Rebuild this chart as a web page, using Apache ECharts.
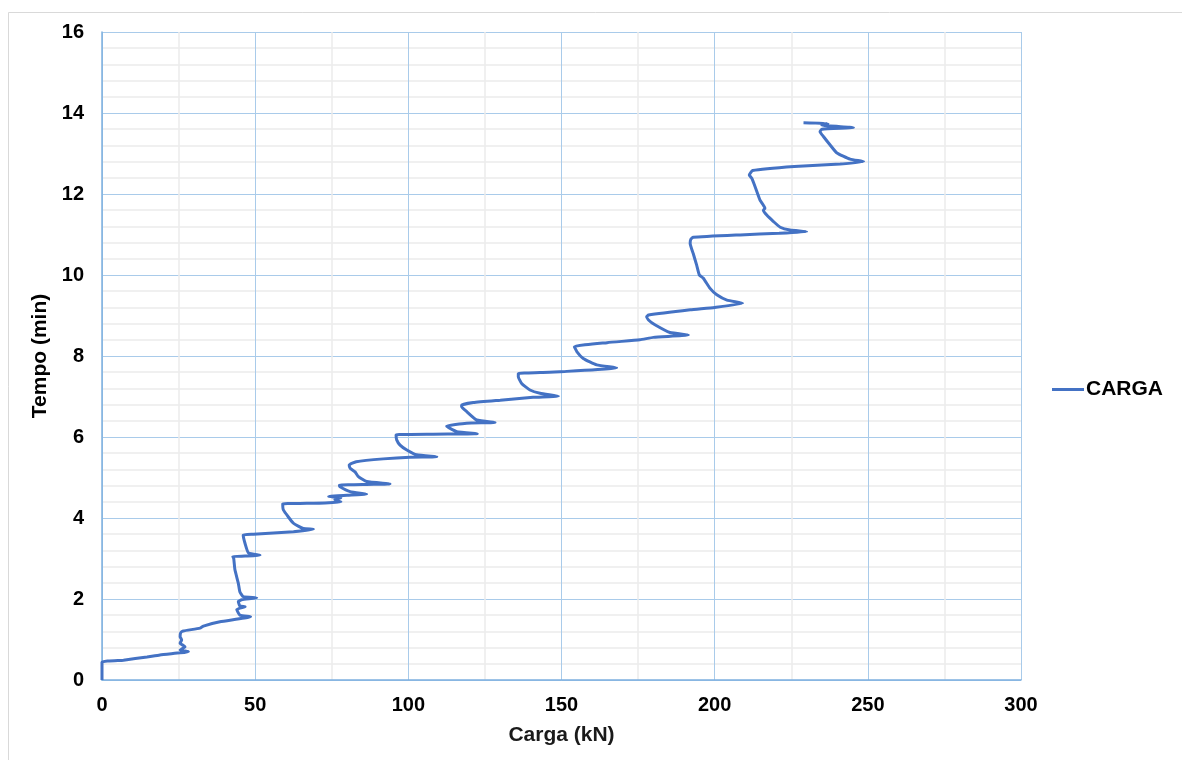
<!DOCTYPE html>
<html>
<head>
<meta charset="utf-8">
<title>Carga x Tempo</title>
<script src="https://cdn.jsdelivr.net/npm/echarts@6/dist/echarts.min.js"></script>
<style>
  html, body { margin: 0; padding: 0; background: #ffffff; }
  #chart { width: 1182px; height: 760px; }
</style>
</head>
<body>
<div id="chart"></div>
<script>
// Load test record: load (kN) against elapsed time (min)
const seriesName = 'CARGA';
const xTicks = [0, 50, 100, 150, 200, 250, 300];
const yTicks = [0, 2, 4, 6, 8, 10, 12, 14, 16];

const tempo = [
  0, 0.44, 0.49, 0.57, 0.62, 0.67, 0.70, 0.74, 0.82, 0.91,
  0.99, 1.07, 1.17, 1.21, 1.28, 1.33, 1.44, 1.56, 1.60, 1.74,
  1.81, 1.83, 1.94, 1.98, 2.03, 2.06, 2.18, 2.39, 2.72, 3.00,
  3.05, 3.06, 3.08, 3.14, 3.37, 3.58, 3.60, 3.66, 3.72, 3.74,
  3.87, 4.20, 4.35, 4.36, 4.37, 4.40, 4.45, 4.50, 4.53, 4.56,
  4.59, 4.65, 4.77, 4.81, 4.83, 4.84, 4.90, 5.02, 5.14, 5.23,
  5.31, 5.39, 5.46, 5.50, 5.51, 5.56, 5.68, 5.80, 5.93, 6.05,
  6.07, 6.08, 6.13, 6.24, 6.27, 6.34, 6.36, 6.42, 6.63, 6.75,
  6.79, 6.85, 6.91, 6.98, 7.01, 7.08, 7.16, 7.32, 7.49, 7.57,
  7.59, 7.61, 7.71, 7.78, 7.94, 8.11, 8.23, 8.33, 8.40, 8.46,
  8.52, 8.58, 8.77, 8.89, 8.97, 9.01, 9.14, 9.20, 9.30, 9.38,
  9.51, 9.67, 9.92, 10.00, 10.25, 10.53, 10.78, 10.88, 10.93, 10.99,
  11.03, 11.07, 11.11, 11.18, 11.32, 11.48, 11.60, 11.65, 11.85, 12.18,
  12.39, 12.47, 12.58, 12.68, 12.74, 12.80, 12.86, 13.02, 13.21, 13.42,
  13.54, 13.60, 13.64, 13.70, 13.74, 13.76
];

const carga = [
  0, 0, 7, 14.7, 18.9, 25.5, 28.2, 25.5, 27.1, 25.5,
  26, 25.5, 25.7, 26.5, 32, 33.1, 38.5, 48.5, 45, 44,
  46.7, 45, 44.5, 45.6, 50.5, 46.1, 45, 44.5, 43.4, 43,
  42.7, 46.7, 51.6, 47.8, 46.7, 46.1, 49.4, 62.5, 69, 65.7,
  62.5, 59.2, 59, 64.6, 72.8, 78, 76, 78, 74, 80,
  86.4, 81, 77.7, 77.5, 86.4, 94, 86.4, 83.7, 82.6, 81,
  80.7, 83, 91.8, 100.5, 109.3, 102.7, 99.5, 97.3, 96.2, 96,
  108, 122.5, 115.8, 113, 112.5, 119, 128.3, 122.3, 119, 117.4,
  117.4, 121.2, 130, 140.7, 149, 143, 139.7, 137, 135.9, 135.9,
  143, 149.5, 168, 161.5, 157.1, 155, 154.2, 164.9, 175.6, 180,
  191.4, 185.4, 180.5, 178.4, 177.8, 178.4, 192, 200, 209.1, 204,
  200.7, 198.5, 196.3, 195, 194.1, 193, 192, 192.2, 193, 208.3,
  221, 230, 224.6, 221.4, 219.2, 217, 215.9, 216.4, 214.8, 213.2,
  212.1, 211.3, 212.4, 226, 241, 248.6, 244.2, 239.8, 237.7, 235.5,
  234.4, 235, 245.3, 235, 237, 229
];

const points = carga.map((c, i) => [c, tempo[i]]);

const FONT = '"Liberation Sans", Arial, sans-serif';
const majorGrid = '#a9cbea';
const minorGrid = '#ebebeb';
const axisBlue = '#7eb0df';

const chart = echarts.init(document.getElementById('chart'), null, { renderer: 'canvas' });

chart.setOption({
  backgroundColor: '#ffffff',
  animation: false,
  graphic: [{
    type: 'rect',
    shape: { x: 8.5, y: 12.5, width: 1200, height: 800 },
    style: { fill: 'none', stroke: '#d9d9d9', lineWidth: 1 },
    silent: true,
    z: -10
  }],
  grid: { left: 102, right: 161, top: 32, bottom: 80, containLabel: false },
  legend: {
    data: [seriesName],
    left: 1052,
    top: 379,
    padding: 0,
    orient: 'vertical',
    icon: 'rect',
    itemWidth: 32,
    itemHeight: 3,
    itemGap: 4,
    textStyle: { fontFamily: FONT, fontSize: 21, fontWeight: 'bold', color: '#000000', padding: [0, 0, 0, -3] }
  },
  xAxis: {
    type: 'value',
    min: xTicks[0],
    max: xTicks[xTicks.length - 1],
    interval: xTicks[1] - xTicks[0],
    name: 'Carga (kN)',
    nameLocation: 'middle',
    nameGap: 45,
    nameTextStyle: { fontFamily: FONT, fontSize: 21, fontWeight: 'bold', color: '#1a1a1a' },
    axisLine: { show: true, lineStyle: { color: axisBlue, width: 1.5 } },
    axisTick: { show: false },
    axisLabel: { fontFamily: FONT, fontSize: 20, fontWeight: 'bold', color: '#000000', margin: 15 },
    splitLine: { show: true, lineStyle: { color: majorGrid, width: 1 } },
    minorTick: { show: false, splitNumber: 2 },
    minorSplitLine: { show: true, lineStyle: { color: minorGrid, width: 1.5 } }
  },
  yAxis: {
    type: 'value',
    min: yTicks[0],
    max: yTicks[yTicks.length - 1],
    interval: yTicks[1] - yTicks[0],
    name: 'Tempo (min)',
    nameLocation: 'middle',
    nameGap: 44,
    nameRotate: 90,
    nameTextStyle: { fontFamily: FONT, fontSize: 21, fontWeight: 'bold', color: '#000000' },
    axisLine: { show: true, lineStyle: { color: axisBlue, width: 1.5 } },
    axisTick: { show: false },
    axisLabel: { fontFamily: FONT, fontSize: 20, fontWeight: 'bold', color: '#000000', margin: 18 },
    splitLine: { show: true, lineStyle: { color: majorGrid, width: 1 } },
    minorTick: { show: false, splitNumber: 5 },
    minorSplitLine: { show: true, lineStyle: { color: minorGrid, width: 1.5 } }
  },
  series: [{
    name: seriesName,
    type: 'line',
    data: points,
    showSymbol: false,
    smooth: 0.15,
    lineStyle: { color: '#4472c4', width: 3 },
    itemStyle: { color: '#4472c4' },
    z: 5
  }]
});
</script>
</body>
</html>
